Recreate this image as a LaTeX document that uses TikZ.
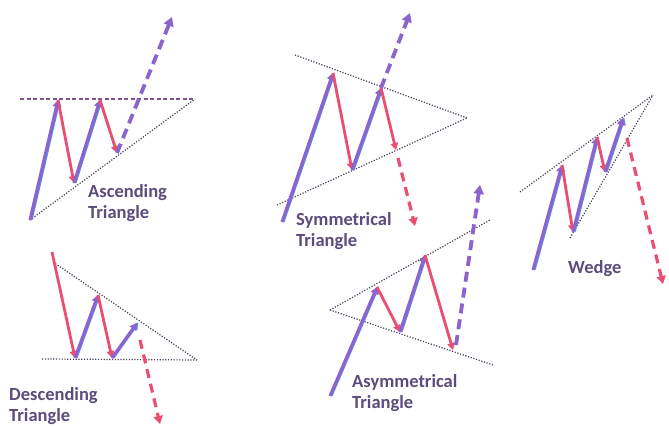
\documentclass[tikz,border=0pt]{standalone}
\usepackage{fontspec}
\setmainfont{Carlito}
\usetikzlibrary{arrows.meta}
\definecolor{uppurple}{RGB}{140,100,205}
\definecolor{upblue}{RGB}{95,135,235}
\definecolor{downred}{RGB}{234,78,112}
\definecolor{txtcol}{RGB}{92,76,125}
\definecolor{dotcol}{RGB}{75,65,90}
\definecolor{dashcol}{RGB}{125,85,145}
\tikzset{
  upline/.style={draw=uppurple, line width=3.1pt, -{Triangle[length=7pt,width=7.5pt]},
    preaction={draw=upblue, line width=3pt, transform canvas={shift={(1.2pt,0.6pt)}}}},
  downline/.style={draw=downred, line width=2.8pt, -{Triangle[length=7pt,width=7.5pt]}},
  updash/.style={draw=uppurple, line width=3.8pt, dash pattern=on 10pt off 6pt, -{Triangle[length=9pt,width=10pt]}},
  downdash/.style={draw=downred, line width=3.2pt, dash pattern=on 9pt off 6pt, -{Triangle[length=8pt,width=9pt]}},
  dotline/.style={draw=dotcol, line width=1.2pt, dash pattern=on 1.2pt off 1.6pt},
  dashline/.style={draw=dashcol, line width=1.6pt, dash pattern=on 4pt off 2.5pt},
  lab/.style={text=txtcol, font=\fontsize{18.5}{21}\selectfont\bfseries, align=left, inner sep=0pt, anchor=north west}
}
\begin{document}
\begin{tikzpicture}[x=1pt,y=-1pt]
\useasboundingbox (0,0) rectangle (669,427);
\fill[white] (0,0) rectangle (669,427);
% ---------------- Ascending triangle
\coordinate (a0) at (30,220);
\coordinate (a1) at (58,100);
\coordinate (a2) at (74,183);
\coordinate (a3) at (100,100);
\coordinate (a4) at (117,153);
\coordinate (a5) at (172,17);
\coordinate (aL) at (20,99);
\coordinate (aR) at (195,99);
\draw[dashline] (aL) -- (aR);
\draw[dotline] (a0) -- (aR);
\draw[upline] (a0) -- (a1);
\draw[downline] (a1) -- (a2);
\draw[upline] (a2) -- (a3);
\draw[downline] (a3) -- (a4);
\draw[updash] (a4) -- (a5);
\node[lab] (alab) at (88,184) {Ascending\\Triangle};
% ---------------- Symmetrical triangle
\coordinate (sT) at (295,55);
\coordinate (sB) at (277,205);
\coordinate (sA) at (467,118);
\coordinate (s0) at (282,222);
\coordinate (s1) at (333,73);
\coordinate (s2) at (352,170);
\coordinate (s3) at (381,88);
\coordinate (s4) at (396,150);
\coordinate (s5) at (410,13);
\coordinate (s6) at (415,226);
\coordinate (s7) at (398,158);
\draw[dotline] (sT) -- (sA);
\draw[dotline] (sB) -- (sA);
\draw[upline] (s0) -- (s1);
\draw[downline] (s1) -- (s2);
\draw[upline] (s2) -- (s3);
\draw[downline] (s3) -- (s4);
\draw[updash] (s3) -- (s5);
\draw[downdash] (s7) -- (s6);
\node[lab] (slab) at (296,212) {Symmetrical\\Triangle};
% ---------------- Wedge
\coordinate (wA) at (653,95);
\coordinate (wU) at (520,192);
\coordinate (wL) at (570,238);
\coordinate (w0) at (533,270);
\coordinate (w1) at (562,165);
\coordinate (w2) at (573,232);
\coordinate (w3) at (597,137);
\coordinate (w4) at (605,172);
\coordinate (w5) at (623,118);
\coordinate (w6) at (627,138);
\coordinate (w7) at (663,284);
\draw[dotline] (wU) -- (wA);
\draw[dotline] (wL) -- (wA);
\draw[upline] (w0) -- (w1);
\draw[downline] (w1) -- (w2);
\draw[upline] (w2) -- (w3);
\draw[downline] (w3) -- (w4);
\draw[upline] (w4) -- (w5);
\draw[downdash] (w6) -- (w7);
\node[lab] (wlab) at (568,260) {Wedge};
% ---------------- Descending triangle
\coordinate (dT) at (53,262);
\coordinate (dA) at (197,360);
\coordinate (dB) at (42,359);
\coordinate (d0) at (52,252);
\coordinate (d1) at (75,358);
\coordinate (d2) at (98,295);
\coordinate (d3) at (112,358);
\coordinate (d4) at (137,323);
\coordinate (d5) at (140,340);
\coordinate (d6) at (160,424);
\draw[dotline] (dT) -- (dA);
\draw[dotline] (dB) -- (dA);
\draw[downline] (d0) -- (d1);
\draw[upline] (d1) -- (d2);
\draw[downline] (d2) -- (d3);
\draw[upline] (d3) -- (d4);
\draw[downdash] (d5) -- (d6);
\node[lab] (dlab) at (9,387) {Descending\\Triangle};
% ---------------- Asymmetrical triangle
\coordinate (yA) at (330,310);
\coordinate (yU) at (490,220);
\coordinate (yL) at (493,365);
\coordinate (y0) at (330,396);
\coordinate (y1) at (377,287);
\coordinate (y2) at (400,332);
\coordinate (y3) at (425,255);
\coordinate (y4) at (453,350);
\coordinate (y5) at (480,185);
\coordinate (y6) at (456,345);
\draw[dotline] (yA) -- (yU);
\draw[dotline] (yA) -- (yL);
\draw[upline] (y0) -- (y1);
\draw[downline] (y1) -- (y2);
\draw[upline] (y2) -- (y3);
\draw[downline] (y3) -- (y4);
\draw[updash] (y6) -- (y5);
\node[lab] (ylab) at (352,374) {Asymmetrical\\Triangle};
\end{tikzpicture}
\end{document}
